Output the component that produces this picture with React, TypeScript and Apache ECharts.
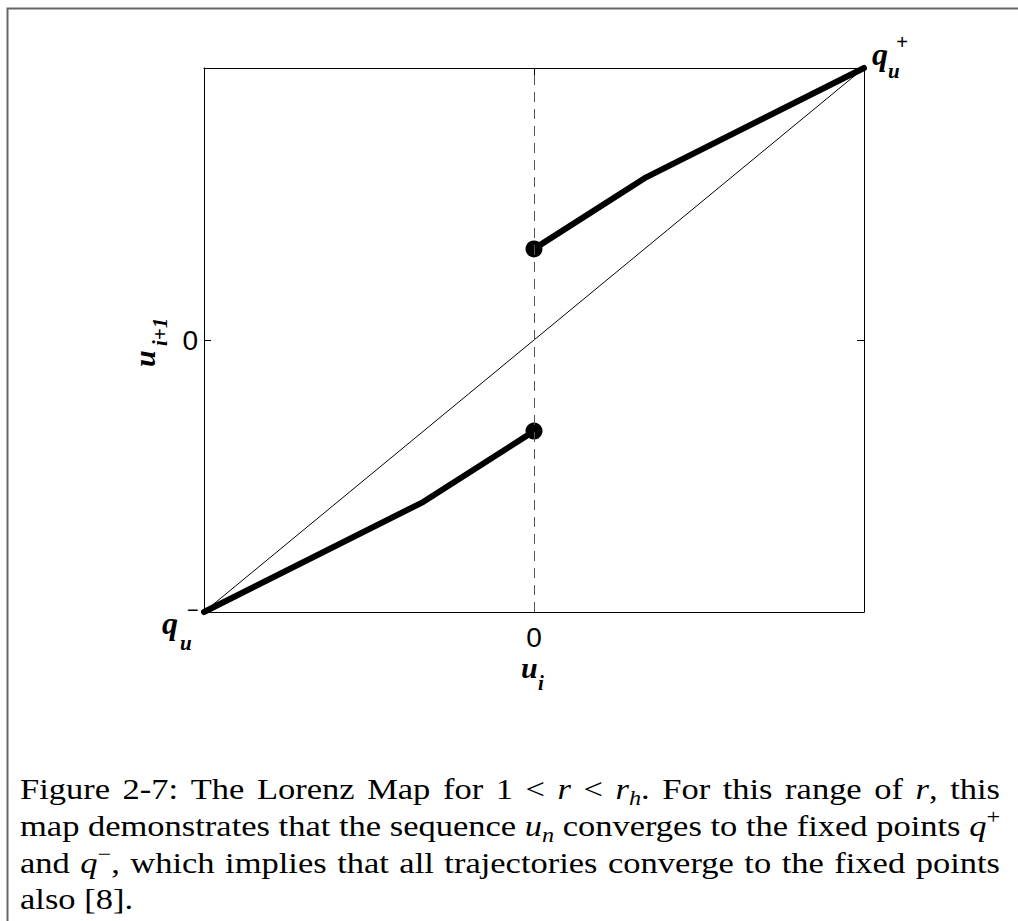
import React, { useEffect, useRef } from 'react';
import * as echarts from 'echarts';

// ---- axis extent (normalised u) ----
const AXIS_MIN = -1;
const AXIS_MAX = 1;
const AXIS_INTERVAL = 1;
const TICK_LABELS: Record<string, string> = { '0': '0' };

// ---- Lorenz map u_{i+1} = f(u_i), one branch each side of u_i = 0 ----
const lowerBranchX = [-1, -0.335, 0];
const lowerBranchY = [-1, -0.595, -0.335];
const upperBranchX = [0, 0.335, 1];
const upperBranchY = [0.335, 0.595, 1];
// identity line u_{i+1} = u_i
const diagonalX = [-1, 1];
const diagonalY = [-1, 1];
// discontinuity of the map
const discontinuityX = 0;
// branch end points at the discontinuity
const endPointX = [0, 0];
const endPointY = [-0.335, 0.335];

// ---- caption: {x} italic, _x subscript, ^x superscript ----
const captionText = [
  'Figure 2-7: The Lorenz Map for 1 < {r} < {r}_h. For this range of {r}, this',
  'map demonstrates that the sequence {u}_n converges to the fixed points {q}^+',
  'and {q}^\u2212, which implies that all trajectories converge to the fixed points',
  'also [8].',
];

type Kind = 'rm' | 'it' | 'sub' | 'sup';
type Piece = [Kind, string];

const zip = (xs: number[], ys: number[]) => xs.map((x, i) => [x, ys[i]]);

function parseWord(word: string): Piece[] {
  const out: Piece[] = [];
  let buf = '';
  const flush = () => {
    if (buf) out.push(['rm', buf]);
    buf = '';
  };
  let i = 0;
  while (i < word.length) {
    const c = word[i];
    if (c === '{') {
      flush();
      const j = word.indexOf('}', i);
      out.push(['it', word.slice(i + 1, j)]);
      i = j + 1;
    } else if (c === '_' || c === '^') {
      flush();
      out.push([c === '_' ? 'sub' : 'sup', word[i + 1]]);
      i += 2;
    } else {
      buf += c;
      i++;
    }
  }
  flush();
  return out;
}

const CAP = {
  size: 30,
  family: '"Liberation Serif", serif',
  left: 20,
  right: 1000,
  baselines: [799, 836, 873, 909],
  script: 0.7,
  subDrop: 6,
  supRise: 12,
};
// distance from the alphabetic to the central baseline (em)
const SERIF_CENTRAL = 0.3375;

function captionElements(): any[] {
  const ctx = document.createElement('canvas').getContext('2d')!;
  const spec = (k: Kind) => {
    const fs = k === 'sub' || k === 'sup' ? CAP.size * CAP.script : CAP.size;
    const italic = k === 'it' || k === 'sub';
    return { fs, italic, css: `${italic ? 'italic ' : ''}${fs}px ${CAP.family}` };
  };
  const pw = (p: Piece) => {
    ctx.font = spec(p[0]).css;
    return ctx.measureText(p[1]).width;
  };
  ctx.font = spec('rm').css;
  const space = ctx.measureText(' ').width;
  const lines = captionText.map((s) => s.split(' ').map(parseWord));
  const wordW = lines.map((ws) => ws.map((w) => w.reduce((a, p) => a + pw(p), 0)));
  const target = CAP.right - CAP.left;
  const ratios = lines
    .slice(0, -1)
    .map((ws, i) => target / (wordW[i].reduce((a, b) => a + b, 0) + space * (ws.length - 1)));
  const sx = Math.min(...ratios);

  const els: any[] = [];
  lines.forEach((ws, li) => {
    const last = li === lines.length - 1;
    const total = wordW[li].reduce((a, b) => a + b, 0) * sx;
    const gap = last ? space * sx : (target - total) / (ws.length - 1);
    let x = CAP.left;
    const base = CAP.baselines[li];
    ws.forEach((w) => {
      w.forEach((p) => {
        const s = spec(p[0]);
        const dy = p[0] === 'sub' ? CAP.subDrop : p[0] === 'sup' ? -CAP.supRise : 0;
        els.push({
          type: 'text',
          x,
          y: base + dy - SERIF_CENTRAL * s.fs,
          scaleX: sx,
          silent: true,
          style: {
            text: p[1],
            fontSize: s.fs,
            fontFamily: CAP.family,
            fontStyle: s.italic ? 'italic' : 'normal',
            fill: '#000',
            align: 'left',
            verticalAlign: 'middle',
          },
        });
        x += pw(p) * sx;
      });
      x += gap;
    });
  });
  return els;
}

// bold italic symbol placed by its baseline
function sym(text: string, x: number, baseline: number, fs: number): any {
  return {
    type: 'text',
    x,
    y: baseline - SERIF_CENTRAL * fs,
    silent: true,
    style: {
      text,
      fontSize: fs,
      fontFamily: '"Liberation Serif", serif',
      fontWeight: 'bold',
      fontStyle: 'italic',
      fill: '#000',
      align: 'left',
      verticalAlign: 'middle',
    },
  };
}

function axisDef(position: string, labelled: boolean, isX: boolean): any {
  return {
    type: 'value',
    position,
    min: AXIS_MIN,
    max: AXIS_MAX,
    interval: AXIS_INTERVAL,
    axisLine: { show: true, onZero: false, lineStyle: { color: '#000', width: 1 } },
    axisTick: { show: true, inside: true, length: 7, lineStyle: { color: '#000', width: 1 } },
    splitLine: { show: false },
    axisLabel: labelled
      ? {
          show: true,
          margin: isX ? 11 : 6,
          color: '#000',
          fontSize: 28,
          fontFamily: '"Liberation Sans", Arial, sans-serif',
          formatter: (v: number) => TICK_LABELS[String(v)] ?? '',
        }
      : { show: false },
  };
}

export default function App() {
  const ref = useRef<HTMLDivElement>(null);

  useEffect(() => {
    if (!ref.current) return;
    const chart = echarts.init(ref.current, undefined, { renderer: 'svg' });

    const thick = {
      type: 'line',
      symbol: 'none',
      clip: false,
      silent: true,
      lineStyle: { color: '#000', width: 6, cap: 'round', join: 'round' },
      z: 3,
    };

    const option: any = {
      animation: false,
      backgroundColor: '#fff',
      grid: { left: 204, top: 68, width: 660, height: 544, containLabel: false },
      xAxis: [axisDef('bottom', true, true), axisDef('top', false, true)],
      yAxis: [axisDef('left', true, false), axisDef('right', false, false)],
      series: [
        {
          type: 'line',
          data: zip(diagonalX, diagonalY),
          symbol: 'none',
          silent: true,
          lineStyle: { color: '#000', width: 1 },
          z: 2,
          markLine: {
            silent: true,
            symbol: ['none', 'none'],
            label: { show: false },
            lineStyle: { color: '#555', width: 1, type: [10, 7] },
            data: [{ xAxis: discontinuityX }],
          },
        },
        { ...thick, data: zip(lowerBranchX, lowerBranchY) },
        { ...thick, data: zip(upperBranchX, upperBranchY) },
        {
          type: 'scatter',
          data: zip(endPointX, endPointY),
          symbol: 'circle',
          symbolSize: 17,
          clip: false,
          silent: true,
          itemStyle: { color: '#000', opacity: 1 },
          z: 4,
        },
      ],
      graphic: [
        {
          type: 'rect',
          silent: true,
          z: -10,
          shape: { x: 7.5, y: 8.5, width: 1200, height: 1200 },
          style: { fill: 'none', stroke: '#666', lineWidth: 2 },
        },
        // x-axis label u_i
        sym('u', 521, 678, 30),
        sym('i', 538, 690, 21),
        // y-axis label u_{i+1}, reading upwards
        {
          type: 'group',
          x: 155,
          y: 341,
          rotation: Math.PI / 2,
          children: [sym('u', -26, 0, 30), sym('i+1', -5, 12, 21)],
        },
        // fixed point q_u^+
        sym('q', 872, 65, 32),
        sym('u', 888, 78, 21),
        sym('+', 896, 49, 21),
        // fixed point q_u^-
        sym('\u2212', 186, 617, 21),
        sym('q', 162, 634, 32),
        sym('u', 180, 650, 21),
        ...captionElements(),
      ],
    };

    chart.setOption(option);
    return () => chart.dispose();
  }, []);

  return (
    <div
      ref={ref}
      style={{ position: 'absolute', left: 0, top: 0, width: 1018, height: 921, background: '#fff' }}
    />
  );
}
